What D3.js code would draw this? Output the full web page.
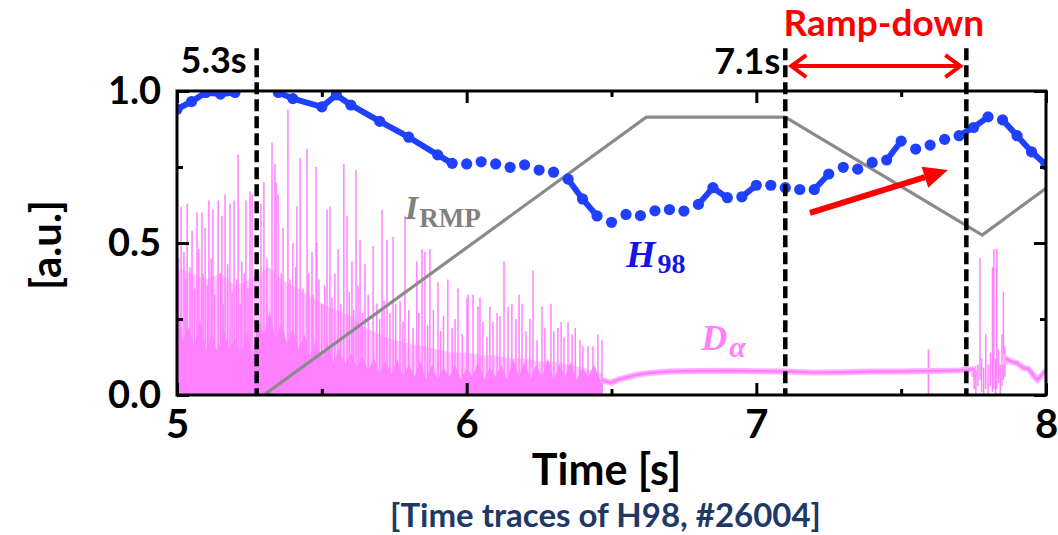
<!DOCTYPE html>
<html>
<head>
<meta charset="utf-8">
<title>H98 time traces</title>
<script src="https://cdnjs.cloudflare.com/ajax/libs/d3/7.8.5/d3.min.js"></script>
<style>
  body { margin: 0; background: #fff; }
  svg text { font-family: Lato, "Open Sans", sans-serif; font-weight: bold; }
  svg text.math { font-family: "Liberation Serif", "DejaVu Serif", serif; }
</style>
</head>
<body>
<div id="chart"></div>
<script>
// ---- H98 (blue dots); join = 1 when a line runs to the next point
var h98T = [5.00, 5.05, 5.10, 5.15, 5.20, 5.25, 5.30, 5.35, 5.40, 5.50, 5.55, 5.60, 5.70, 5.80, 5.90, 5.95,
            6.00, 6.05, 6.10, 6.15, 6.20, 6.25, 6.30, 6.35, 6.40, 6.45, 6.50, 6.55, 6.60, 6.65, 6.70, 6.75,
            6.80, 6.85, 6.90, 6.95, 7.00, 7.05, 7.10, 7.15, 7.20, 7.25, 7.30, 7.35, 7.40, 7.45, 7.50, 7.55,
            7.60, 7.65, 7.70, 7.75, 7.80, 7.85, 7.90, 7.95, 8.00];
var h98V = [0.94, 0.965, 0.995, 0.99, 0.995, 1.03, 1.04, 0.995, 0.975, 0.948, 0.987, 0.954, 0.90, 0.848, 0.79, 0.762,
            0.76, 0.767, 0.76, 0.749, 0.757, 0.74, 0.733, 0.71, 0.645, 0.589, 0.568, 0.594, 0.59, 0.606, 0.61, 0.605,
            0.627, 0.682, 0.649, 0.652, 0.69, 0.69, 0.682, 0.676, 0.676, 0.727, 0.749, 0.743, 0.765, 0.773, 0.835, 0.809,
            0.822, 0.841, 0.853, 0.88, 0.915, 0.905, 0.853, 0.80, 0.757];
var h98Join = [1, 1, 1, 1, 1, 1, 1, 1, 1, 1, 1, 1, 1, 1, 1, 0,
               0, 0, 0, 0, 0, 0, 0, 1, 1, 0, 0, 0, 0, 0, 0, 0,
               1, 1, 0, 1, 0, 0, 0, 0, 1, 0, 0, 0, 0, 1, 0, 0,
               0, 0, 1, 1, 0, 1, 1, 1, 0];

// ---- I_RMP (grey)
var rmpT = [5.30, 6.62, 7.10, 7.78, 8.00];
var rmpV = [0.00, 0.914, 0.914, 0.526, 0.68];

// ---- D-alpha: ELM spikes [time, height]
var daSpikes = [
  [5.005, 0.45], [5.014, 0.62], [5.024, 0.47], [5.030, 0.38], [5.035, 0.63], [5.045, 0.42], [5.052, 0.54],
  [5.060, 0.35], [5.069, 0.60], [5.075, 0.48], [5.086, 0.60], [5.090, 0.40], [5.097, 0.55], [5.105, 0.36],
  [5.110, 0.64], [5.118, 0.45], [5.124, 0.61], [5.130, 0.33], [5.142, 0.64], [5.150, 0.40], [5.155, 0.59],
  [5.160, 0.30], [5.166, 0.66], [5.175, 0.43], [5.183, 0.63], [5.190, 0.34], [5.197, 0.64], [5.205, 0.38],
  [5.211, 0.79], [5.218, 0.30], [5.224, 0.44], [5.232, 0.40], [5.238, 0.64], [5.245, 0.35], [5.252, 0.67],
  [5.259, 0.66], [5.290, 0.63], [5.300, 0.70], [5.310, 0.45], [5.328, 0.83], [5.338, 0.76], [5.342, 0.70],
  [5.349, 0.66], [5.360, 0.40], [5.366, 0.55], [5.383, 0.94], [5.390, 0.38], [5.400, 0.50], [5.410, 0.42],
  [5.414, 0.62], [5.425, 0.78], [5.435, 0.35], [5.449, 0.81], [5.455, 0.40], [5.466, 0.47], [5.470, 0.33],
  [5.480, 0.75], [5.483, 0.50], [5.490, 0.38], [5.500, 0.30], [5.510, 0.36], [5.518, 0.61], [5.528, 0.62],
  [5.535, 0.32], [5.545, 0.40], [5.556, 0.48], [5.565, 0.30], [5.576, 0.76], [5.587, 0.59], [5.595, 0.34],
  [5.604, 0.44], [5.610, 0.28], [5.618, 0.74], [5.625, 0.36], [5.632, 0.51], [5.640, 0.27], [5.649, 0.43],
  [5.660, 0.33], [5.677, 0.49], [5.690, 0.30], [5.700, 0.25], [5.708, 0.61], [5.715, 0.31], [5.725, 0.51],
  [5.735, 0.27], [5.746, 0.52], [5.755, 0.30], [5.770, 0.31], [5.780, 0.24], [5.787, 0.59], [5.800, 0.28],
  [5.815, 0.22], [5.828, 0.44], [5.835, 0.27], [5.846, 0.48], [5.856, 0.47], [5.865, 0.23], [5.873, 0.48],
  [5.885, 0.28], [5.901, 0.37], [5.910, 0.21], [5.920, 0.26], [5.935, 0.38], [5.950, 0.22], [5.960, 0.25],
  [5.970, 0.35], [5.985, 0.20], [6.001, 0.32], [6.005, 0.33], [6.022, 0.33], [6.039, 0.29], [6.046, 0.32],
  [6.056, 0.24], [6.070, 0.19], [6.080, 0.29], [6.091, 0.24], [6.105, 0.27], [6.115, 0.26], [6.129, 0.44],
  [6.143, 0.29], [6.156, 0.30], [6.170, 0.25], [6.181, 0.33], [6.191, 0.30], [6.205, 0.21], [6.218, 0.25],
  [6.229, 0.41], [6.243, 0.18], [6.260, 0.29], [6.270, 0.22], [6.291, 0.30], [6.301, 0.21], [6.315, 0.22],
  [6.326, 0.24], [6.336, 0.19], [6.350, 0.24], [6.364, 0.20], [6.375, 0.22], [6.391, 0.18], [6.401, 0.16],
  [6.419, 0.16], [6.436, 0.16], [6.453, 0.20], [6.467, 0.18], [7.594, 0.15]
];

// ---- D-alpha: top of the light, busy ELM band [time, value]
var daHaze = [
  [5.00, 0.42], [5.05, 0.40], [5.10, 0.38], [5.15, 0.40], [5.20, 0.36], [5.25, 0.38], [5.28, 0.40],
  [5.32, 0.42], [5.36, 0.38], [5.40, 0.36], [5.45, 0.33], [5.50, 0.30], [5.55, 0.28], [5.60, 0.26],
  [5.65, 0.22], [5.70, 0.20], [5.75, 0.18], [5.80, 0.17], [5.85, 0.16], [5.90, 0.15], [5.95, 0.14],
  [6.00, 0.14], [6.05, 0.13], [6.10, 0.13], [6.15, 0.12], [6.20, 0.12], [6.25, 0.11], [6.30, 0.11],
  [6.35, 0.10], [6.40, 0.09], [6.47, 0.07]
];

// ---- D-alpha: top of the dense ELM band [time, value]
var daFloor = [
  [5.00, 0.30], [5.02, 0.18], [5.04, 0.22], [5.06, 0.16], [5.08, 0.25], [5.10, 0.15], [5.12, 0.20],
  [5.14, 0.14], [5.16, 0.22], [5.18, 0.15], [5.20, 0.19], [5.22, 0.13], [5.24, 0.21], [5.26, 0.12],
  [5.28, 0.25], [5.30, 0.20], [5.32, 0.28], [5.34, 0.18], [5.36, 0.24], [5.38, 0.17], [5.40, 0.22],
  [5.42, 0.15], [5.44, 0.20], [5.46, 0.13], [5.48, 0.18], [5.50, 0.12], [5.52, 0.17], [5.54, 0.11],
  [5.56, 0.15], [5.58, 0.10], [5.60, 0.14], [5.62, 0.09], [5.64, 0.13], [5.66, 0.08], [5.68, 0.12],
  [5.70, 0.07], [5.72, 0.11], [5.74, 0.07], [5.76, 0.12], [5.78, 0.06], [5.80, 0.10], [5.82, 0.06],
  [5.84, 0.11], [5.86, 0.05], [5.88, 0.10], [5.90, 0.05], [5.92, 0.09], [5.94, 0.06], [5.96, 0.10],
  [5.98, 0.05], [6.00, 0.09], [6.02, 0.06], [6.04, 0.11], [6.06, 0.05], [6.08, 0.09], [6.10, 0.06],
  [6.12, 0.10], [6.14, 0.05], [6.16, 0.12], [6.18, 0.06], [6.20, 0.11], [6.22, 0.05], [6.24, 0.10],
  [6.26, 0.06], [6.28, 0.12], [6.30, 0.05], [6.32, 0.10], [6.34, 0.06], [6.36, 0.11], [6.38, 0.05],
  [6.40, 0.09], [6.42, 0.06], [6.44, 0.10], [6.46, 0.05], [6.47, 0.04]
];

// ---- D-alpha: quiet phase level [time, value]
var daQuiet = [
  [6.467, 0.05], [6.48, 0.045], [6.50, 0.04], [6.52, 0.05], [6.54, 0.055], [6.56, 0.06], [6.58, 0.065],
  [6.60, 0.068], [6.63, 0.072], [6.66, 0.075], [6.70, 0.077], [6.80, 0.079], [6.90, 0.08], [7.00, 0.078],
  [7.10, 0.077], [7.20, 0.074], [7.30, 0.075], [7.40, 0.077], [7.50, 0.077], [7.60, 0.079], [7.70, 0.081],
  [7.75, 0.085]
];

// ---- D-alpha: bursts after ramp-down [time, low, high]
var daLate = [
  [7.752, 0.02, 0.09], [7.758, 0.00, 0.08], [7.765, 0.03, 0.10], [7.772, 0.05, 0.45], [7.778, 0.01, 0.12],
  [7.785, 0.00, 0.09], [7.792, 0.02, 0.20], [7.800, 0.00, 0.10], [7.808, 0.03, 0.14], [7.815, 0.01, 0.42],
  [7.820, 0.02, 0.48], [7.826, 0.00, 0.12], [7.830, 0.02, 0.48], [7.836, 0.04, 0.15], [7.842, 0.00, 0.10],
  [7.848, 0.03, 0.20], [7.853, 0.05, 0.34], [7.858, 0.06, 0.16]
];
var daTail = [[7.86, 0.12], [7.88, 0.11], [7.90, 0.105], [7.92, 0.09], [7.94, 0.085], [7.96, 0.06],
              [7.97, 0.05], [7.98, 0.06], [8.00, 0.08]];

// ---- axes and markers
var xMajor = [5, 6, 7, 8];
var xMinor = [5.5, 6.5, 7.5];
var yMajor = [0, 0.5, 1.0];
var yMinor = [0.25, 0.75];
var dashT = [5.275, 7.10, 7.725];

var margin = {top: 91, right: 12, bottom: 140, left: 177};
var width = 869, height = 304;

var svg = d3.select("#chart").append("svg")
    .attr("width", 1058).attr("height", 535)
  .append("g")
    .attr("transform", "translate(" + margin.left + "," + margin.top + ")");

var x = d3.scaleLinear().domain([5, 8]).range([0, width]);
var y = d3.scaleLinear().domain([0, 1]).range([height, 0]);

svg.append("defs").append("clipPath").attr("id", "plot")
  .append("rect").attr("width", width).attr("height", height);

var plot = svg.append("g").attr("clip-path", "url(#plot)");
var pink = "#ff80ff";
var lineXY = d3.line().x(function(d) { return x(d[0]); }).y(function(d) { return y(d[1]); });
var areaXY = d3.area().x(function(d) { return x(d[0]); }).y0(y(0)).y1(function(d) { return y(d[1]); });

// D-alpha
plot.append("path").datum(daHaze).attr("fill", "#ffc4ff").attr("d", areaXY);
plot.append("path").datum(daFloor).attr("fill", pink).attr("d", areaXY);

plot.selectAll(".spike").data(daSpikes).enter().append("line")
    .attr("x1", function(d) { return x(d[0]); }).attr("x2", function(d) { return x(d[0]); })
    .attr("y1", y(0)).attr("y2", function(d) { return y(d[1]); })
    .attr("stroke", pink).attr("stroke-width", 1.5);

plot.append("path").datum(daQuiet.concat([[7.752, 0.06]]))
    .attr("fill", "none").attr("stroke", "#ffb0ff").attr("stroke-width", 6).attr("d", lineXY);
plot.append("path").datum(daQuiet)
    .attr("fill", "none").attr("stroke", pink).attr("stroke-width", 2.5).attr("d", lineXY);

plot.selectAll(".late").data(daLate).enter().append("line")
    .attr("x1", function(d) { return x(d[0]); }).attr("x2", function(d) { return x(d[0]); })
    .attr("y1", function(d) { return y(d[1]); }).attr("y2", function(d) { return y(d[2]); })
    .attr("stroke", pink).attr("stroke-width", 1.5);
plot.append("path").datum([[7.858, 0.10]].concat(daTail))
    .attr("fill", "none").attr("stroke", "#ffb0ff").attr("stroke-width", 6).attr("d", lineXY);
plot.append("path").datum(daTail)
    .attr("fill", "none").attr("stroke", pink).attr("stroke-width", 2.5).attr("d", lineXY);

// I_RMP
plot.append("path")
    .datum(rmpT.map(function(t, i) { return [t, rmpV[i]]; }))
    .attr("fill", "none").attr("stroke", "#8a8a8a").attr("stroke-width", 3.2)
    .attr("d", lineXY);

// dashed time markers
svg.selectAll(".vmark").data(dashT).enter().append("line")
    .attr("x1", function(d) { return x(d); }).attr("x2", function(d) { return x(d); })
    .attr("y1", y(1.141)).attr("y2", y(0))
    .attr("stroke", "#000").attr("stroke-width", 4.5).attr("stroke-dasharray", "12,5");

// H98
var h98 = h98T.map(function(t, i) { return {t: t, v: h98V[i], j: h98Join[i]}; });
var blue = "#2040ff";
plot.selectAll(".seg").data(h98.slice(0, -1).filter(function(d) { return d.j; })).enter().append("line")
    .attr("x1", function(d) { return x(d.t); }).attr("y1", function(d) { return y(d.v); })
    .attr("x2", function(d) { var n = h98[h98.indexOf(d) + 1]; return x(n.t); })
    .attr("y2", function(d) { var n = h98[h98.indexOf(d) + 1]; return y(n.v); })
    .attr("stroke", blue).attr("stroke-width", 6).attr("stroke-linecap", "round");
plot.selectAll(".dot").data(h98).enter().append("circle")
    .attr("cx", function(d) { return x(d.t); }).attr("cy", function(d) { return y(d.v); })
    .attr("r", 5.6).attr("fill", blue);

// frame and ticks
svg.append("rect").attr("width", width).attr("height", height)
    .attr("fill", "none").attr("stroke", "#000").attr("stroke-width", 3);

function tickAxis(axis, transform, values, size, labels) {
  var g = svg.append("g").attr("transform", transform)
      .call(axis.tickValues(values).tickSize(-size).tickPadding(labels ? 18 : 0)
                .tickFormat(labels ? labels : function() { return ""; }));
  g.select(".domain").remove();
  g.selectAll(".tick line").attr("stroke", "#000").attr("stroke-width", 3);
  return g;
}
var xb = tickAxis(d3.axisBottom(x), "translate(0," + height + ")", xMajor, 12, d3.format("d"));
tickAxis(d3.axisBottom(x), "translate(0," + height + ")", xMinor, 6);
tickAxis(d3.axisTop(x), "translate(0,0)", xMajor, 12);
tickAxis(d3.axisTop(x), "translate(0,0)", xMinor, 6);
var yl = tickAxis(d3.axisLeft(y), "translate(0,0)", yMajor, 12, d3.format(".1f"));
tickAxis(d3.axisLeft(y), "translate(0,0)", yMinor, 6);
tickAxis(d3.axisRight(y), "translate(" + width + ",0)", yMajor, 12);
tickAxis(d3.axisRight(y), "translate(" + width + ",0)", yMinor, 6);

xb.selectAll("text").attr("font-size", 40).attr("fill", "#000").attr("font-family", "Lato").attr("y", 15);
yl.selectAll("text").attr("font-size", 38).attr("fill", "#000").attr("font-family", "Lato").attr("x", -16);

// axis titles
svg.append("text").attr("x", width / 2 - 5).attr("y", height + 90)
    .attr("text-anchor", "middle").attr("font-size", 43).text("Time [s]");
svg.append("text").attr("transform", "translate(-116," + (height / 2 + 2) + ") rotate(-90)")
    .attr("text-anchor", "middle").attr("font-size", 42).text("[a.u.]");
svg.append("text").attr("x", width / 2 - 6).attr("y", height + 132)
    .attr("text-anchor", "middle").attr("font-size", 33).attr("fill", "#203864")
    .text("[Time traces of H98, #26004]");

// time labels
svg.append("text").attr("x", x(5.275) - 10).attr("y", y(1.059))
    .attr("text-anchor", "end").attr("font-size", 36).text("5.3s");
svg.append("text").attr("x", x(7.10) - 5).attr("y", y(1.056))
    .attr("text-anchor", "end").attr("font-size", 36).text("7.1s");

// ramp-down annotation
var red = "#ff0000";
svg.append("text").attr("x", x(7.44)).attr("y", y(1.181))
    .attr("text-anchor", "middle").attr("font-size", 37).attr("fill", red).text("Ramp-down");
var ax0 = x(7.10) + 6, ax1 = x(7.725) - 6, ay = y(1.082);
svg.append("line").attr("x1", ax0).attr("x2", ax1).attr("y1", ay).attr("y2", ay)
    .attr("stroke", red).attr("stroke-width", 4);
svg.append("path").attr("d", "M" + (ax0 + 15) + "," + (ay - 11) + "L" + ax0 + "," + ay + "L" + (ax0 + 15) + "," + (ay + 11))
    .attr("fill", "none").attr("stroke", red).attr("stroke-width", 4);
svg.append("path").attr("d", "M" + (ax1 - 15) + "," + (ay - 11) + "L" + ax1 + "," + ay + "L" + (ax1 - 15) + "," + (ay + 11))
    .attr("fill", "none").attr("stroke", red).attr("stroke-width", 4);

// trend arrow
var p0 = [x(7.185), y(0.599)], p1 = [x(7.661), y(0.74)];
var ang = Math.atan2(p1[1] - p0[1], p1[0] - p0[0]);
var hl = 24, hw = 11;
var base = [p1[0] - hl * Math.cos(ang), p1[1] - hl * Math.sin(ang)];
svg.append("line").attr("x1", p0[0]).attr("y1", p0[1]).attr("x2", base[0]).attr("y2", base[1])
    .attr("stroke", red).attr("stroke-width", 6);
svg.append("path").attr("fill", red).attr("d",
    "M" + p1[0] + "," + p1[1] +
    "L" + (base[0] + hw * Math.sin(ang)) + "," + (base[1] - hw * Math.cos(ang)) +
    "L" + (base[0] - hw * Math.sin(ang)) + "," + (base[1] + hw * Math.cos(ang)) + "Z");

// series labels
var lr = svg.append("text").attr("class", "math").attr("x", x(5.787)).attr("y", y(0.58)).attr("fill", "#808080");
lr.append("tspan").attr("font-size", 34).attr("font-style", "italic").text("I");
lr.append("tspan").attr("font-size", 27).attr("dy", 8).attr("dx", 1).text("RMP");

var lh = svg.append("text").attr("class", "math").attr("x", x(6.55)).attr("y", y(0.421)).attr("fill", "#1414e6");
lh.append("tspan").attr("font-size", 38).attr("font-style", "italic").text("H");
lh.append("tspan").attr("font-size", 28).attr("dy", 6).attr("dx", 2).text("98");

var ld = svg.append("text").attr("class", "math").attr("x", x(6.81)).attr("y", y(0.148)).attr("fill", pink);
ld.append("tspan").attr("font-size", 36).attr("font-style", "italic").text("D");
ld.append("tspan").attr("font-size", 30).attr("font-style", "italic").attr("dy", 7).attr("dx", 2).text("α");
</script>
</body>
</html>
